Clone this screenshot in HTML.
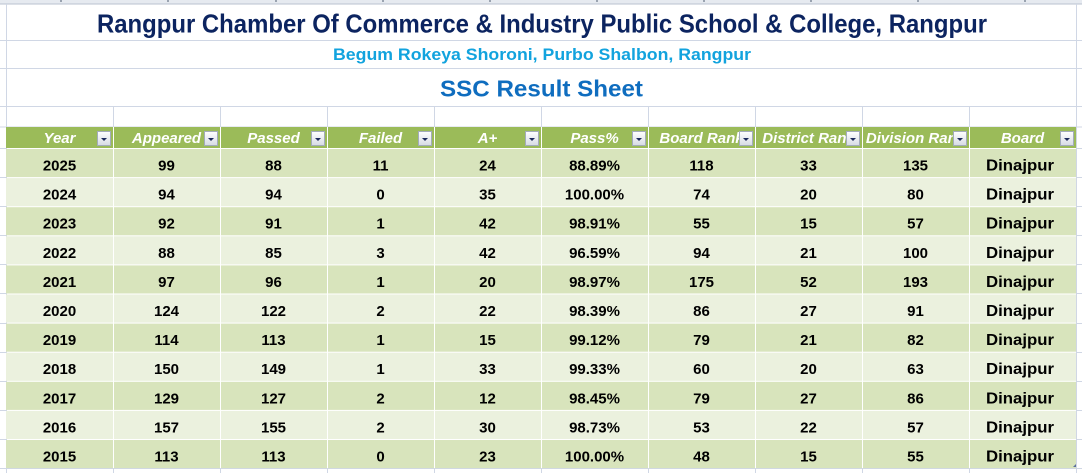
<!DOCTYPE html>
<html>
<head>
<meta charset="utf-8">
<style>
html,body{margin:0;padding:0;background:#fff;}
body{width:1082px;height:473px;overflow:hidden;}
svg{display:block;}
.d{font-family:"Liberation Sans",sans-serif;font-weight:bold;font-size:15px;fill:#000;text-anchor:middle;}
.b{font-family:"Liberation Sans",sans-serif;font-weight:bold;font-size:16px;fill:#000;}
.h{font-family:"Liberation Sans",sans-serif;font-weight:bold;font-style:italic;font-size:15px;fill:#fff;text-anchor:middle;}
</style>
</head>
<body>
<svg width="1082" height="473" viewBox="0 0 1082 473" xmlns="http://www.w3.org/2000/svg">
<defs>
<linearGradient id="btn" x1="0" y1="0" x2="0" y2="1">
<stop offset="0" stop-color="#ffffff"/>
<stop offset="1" stop-color="#d6dbe4"/>
</linearGradient>
</defs>
<rect x="0" y="0" width="1082" height="473" fill="#fff"/>
<!-- top excel header band -->
<rect x="0" y="0" width="1082" height="4" fill="#e6eaf0"/>
<rect x="0" y="3.5" width="1082" height="1" fill="#b9c2cf"/>
<g fill="#9aa3b0">
<rect x="60" y="0" width="2" height="2"/><rect x="167" y="0" width="2" height="2"/><rect x="275" y="0" width="2" height="2"/>
<rect x="382" y="0" width="2" height="2"/><rect x="489" y="0" width="2" height="2"/><rect x="596" y="0" width="2" height="2"/>
<rect x="703" y="0" width="2" height="2"/><rect x="810" y="0" width="2" height="2"/><rect x="917" y="0" width="2" height="2"/>
<rect x="1024" y="0" width="2" height="2"/>
</g>
<!-- gridlines -->
<g fill="#d0d7e5">
<rect x="0" y="40" width="1082" height="1"/>
<rect x="0" y="68" width="1082" height="1"/>
<rect x="0" y="106" width="1082" height="1"/>
<rect x="0" y="126.5" width="1082" height="1"/>
<rect x="0" y="468" width="1082" height="1"/>
<rect x="6" y="4" width="1" height="469"/>
<rect x="1076" y="4" width="1" height="469"/>
<rect x="113" y="106" width="1" height="21"/><rect x="220" y="106" width="1" height="21"/><rect x="327" y="106" width="1" height="21"/>
<rect x="434" y="106" width="1" height="21"/><rect x="541" y="106" width="1" height="21"/><rect x="648" y="106" width="1" height="21"/>
<rect x="755" y="106" width="1" height="21"/><rect x="862" y="106" width="1" height="21"/><rect x="969" y="106" width="1" height="21"/>
<rect x="113" y="468" width="1" height="5"/><rect x="220" y="468" width="1" height="5"/><rect x="327" y="468" width="1" height="5"/>
<rect x="434" y="468" width="1" height="5"/><rect x="541" y="468" width="1" height="5"/><rect x="648" y="468" width="1" height="5"/>
<rect x="755" y="468" width="1" height="5"/><rect x="862" y="468" width="1" height="5"/><rect x="969" y="468" width="1" height="5"/>
<rect x="0" y="177" width="6" height="1"/><rect x="0" y="206" width="6" height="1"/><rect x="0" y="235" width="6" height="1"/>
<rect x="0" y="264" width="6" height="1"/><rect x="0" y="293" width="6" height="1"/><rect x="0" y="323" width="6" height="1"/>
<rect x="0" y="352" width="6" height="1"/><rect x="0" y="381" width="6" height="1"/><rect x="0" y="410" width="6" height="1"/>
<rect x="0" y="439" width="6" height="1"/><rect x="0" y="148" width="6" height="1"/>
<rect x="1077" y="177" width="5" height="1"/><rect x="1077" y="206" width="5" height="1"/><rect x="1077" y="235" width="5" height="1"/>
<rect x="1077" y="264" width="5" height="1"/><rect x="1077" y="293" width="5" height="1"/><rect x="1077" y="323" width="5" height="1"/>
<rect x="1077" y="352" width="5" height="1"/><rect x="1077" y="381" width="5" height="1"/><rect x="1077" y="410" width="5" height="1"/>
<rect x="1077" y="439" width="5" height="1"/><rect x="1077" y="148" width="5" height="1"/>
</g>
<!-- titles -->
<text x="97" y="32.5" textLength="890" lengthAdjust="spacingAndGlyphs" style="font-family:'Liberation Sans',sans-serif;font-weight:bold;font-size:26px;fill:#0c2460;">Rangpur Chamber Of Commerce &amp; Industry Public School &amp; College, Rangpur</text>
<text x="333" y="60" textLength="418" lengthAdjust="spacingAndGlyphs" style="font-family:'Liberation Sans',sans-serif;font-weight:bold;font-size:16.5px;fill:#12a3de;">Begum Rokeya Shoroni, Purbo Shalbon, Rangpur</text>
<text x="440" y="96.7" textLength="203" lengthAdjust="spacingAndGlyphs" style="font-family:'Liberation Sans',sans-serif;font-weight:bold;font-size:23.5px;fill:#0f6dbf;">SSC Result Sheet</text>

<!-- header row -->
<rect x="6" y="127" width="1070" height="21" fill="#9bbb59"/>
<!-- data rows -->
<rect x="6" y="149" width="1070" height="28.1" fill="#d8e4bc"/>
<rect x="6" y="178.1" width="1070" height="28.1" fill="#ebf1de"/>
<rect x="6" y="207.2" width="1070" height="28.1" fill="#d8e4bc"/>
<rect x="6" y="236.3" width="1070" height="28.1" fill="#ebf1de"/>
<rect x="6" y="265.4" width="1070" height="28.1" fill="#d8e4bc"/>
<rect x="6" y="294.5" width="1070" height="28.1" fill="#ebf1de"/>
<rect x="6" y="323.6" width="1070" height="28.1" fill="#d8e4bc"/>
<rect x="6" y="352.7" width="1070" height="28.1" fill="#ebf1de"/>
<rect x="6" y="381.8" width="1070" height="28.1" fill="#d8e4bc"/>
<rect x="6" y="410.9" width="1070" height="28.1" fill="#ebf1de"/>
<rect x="6" y="440" width="1070" height="28.1" fill="#d8e4bc"/>
<!-- white vertical separators -->
<g fill="#fff">
<rect x="113" y="127" width="1" height="341"/><rect x="220" y="127" width="1" height="341"/><rect x="327" y="127" width="1" height="341"/>
<rect x="434" y="127" width="1" height="341"/><rect x="541" y="127" width="1" height="341"/><rect x="648" y="127" width="1" height="341"/>
<rect x="755" y="127" width="1" height="341"/><rect x="862" y="127" width="1" height="341"/><rect x="969" y="127" width="1" height="341"/>
</g>

<!-- header texts (clipped at buttons) -->
<svg x="7" y="127" width="90" height="21"><text class="h" x="52.5" y="16">Year</text></svg>
<svg x="114" y="127" width="90" height="21"><text class="h" x="52.5" y="16">Appeared</text></svg>
<svg x="221" y="127" width="90" height="21"><text class="h" x="52.5" y="16">Passed</text></svg>
<svg x="328" y="127" width="90" height="21"><text class="h" x="52.5" y="16">Failed</text></svg>
<svg x="435" y="127" width="90" height="21"><text class="h" x="52.5" y="16">A+</text></svg>
<svg x="542" y="127" width="90" height="21"><text class="h" x="52.5" y="16">Pass%</text></svg>
<svg x="649" y="127" width="90" height="21"><text class="h" x="52.5" y="16">Board Rank</text></svg>
<svg x="756" y="127" width="90" height="21"><text class="h" x="52.5" y="16">District Rank</text></svg>
<svg x="863" y="127" width="90" height="21"><text class="h" x="52.5" y="16">Division Rank</text></svg>
<svg x="970" y="127" width="90" height="21"><text class="h" x="52.5" y="16">Board</text></svg>

<!-- filter buttons -->
<g>
<g transform="translate(97,131)"><rect x="0.5" y="0.5" width="13" height="14" fill="url(#btn)" stroke="#a3abbb"/><path d="M4 7 L10 7 L7 10 Z" fill="#1d2a5c"/></g>
<g transform="translate(204,131)"><rect x="0.5" y="0.5" width="13" height="14" fill="url(#btn)" stroke="#a3abbb"/><path d="M4 7 L10 7 L7 10 Z" fill="#1d2a5c"/></g>
<g transform="translate(311,131)"><rect x="0.5" y="0.5" width="13" height="14" fill="url(#btn)" stroke="#a3abbb"/><path d="M4 7 L10 7 L7 10 Z" fill="#1d2a5c"/></g>
<g transform="translate(418,131)"><rect x="0.5" y="0.5" width="13" height="14" fill="url(#btn)" stroke="#a3abbb"/><path d="M4 7 L10 7 L7 10 Z" fill="#1d2a5c"/></g>
<g transform="translate(525,131)"><rect x="0.5" y="0.5" width="13" height="14" fill="url(#btn)" stroke="#a3abbb"/><path d="M4 7 L10 7 L7 10 Z" fill="#1d2a5c"/></g>
<g transform="translate(632,131)"><rect x="0.5" y="0.5" width="13" height="14" fill="url(#btn)" stroke="#a3abbb"/><path d="M4 7 L10 7 L7 10 Z" fill="#1d2a5c"/></g>
<g transform="translate(739,131)"><rect x="0.5" y="0.5" width="13" height="14" fill="url(#btn)" stroke="#a3abbb"/><path d="M4 7 L10 7 L7 10 Z" fill="#1d2a5c"/></g>
<g transform="translate(846,131)"><rect x="0.5" y="0.5" width="13" height="14" fill="url(#btn)" stroke="#a3abbb"/><path d="M4 7 L10 7 L7 10 Z" fill="#1d2a5c"/></g>
<g transform="translate(953,131)"><rect x="0.5" y="0.5" width="13" height="14" fill="url(#btn)" stroke="#a3abbb"/><path d="M4 7 L10 7 L7 10 Z" fill="#1d2a5c"/></g>
<g transform="translate(1060,131)"><rect x="0.5" y="0.5" width="13" height="14" fill="url(#btn)" stroke="#a3abbb"/><path d="M4 7 L10 7 L7 10 Z" fill="#1d2a5c"/></g>
</g>

<!-- data text -->
<g>
<text class="d" x="59.5" y="170.5">2025</text><text class="d" x="166.5" y="170.5">99</text><text class="d" x="273.5" y="170.5">88</text><text class="d" x="380.5" y="170.5">11</text><text class="d" x="487.5" y="170.5">24</text><text class="d" x="594.5" y="170.5">88.89%</text><text class="d" x="701.5" y="170.5">118</text><text class="d" x="808.5" y="170.5">33</text><text class="d" x="915.5" y="170.5">135</text><text class="b" x="986" y="170.5" textLength="68" lengthAdjust="spacingAndGlyphs">Dinajpur</text>

<text class="d" x="59.5" y="199.6">2024</text><text class="d" x="166.5" y="199.6">94</text><text class="d" x="273.5" y="199.6">94</text><text class="d" x="380.5" y="199.6">0</text><text class="d" x="487.5" y="199.6">35</text><text class="d" x="594.5" y="199.6">100.00%</text><text class="d" x="701.5" y="199.6">74</text><text class="d" x="808.5" y="199.6">20</text><text class="d" x="915.5" y="199.6">80</text><text class="b" x="986" y="199.6" textLength="68" lengthAdjust="spacingAndGlyphs">Dinajpur</text>

<text class="d" x="59.5" y="228.7">2023</text><text class="d" x="166.5" y="228.7">92</text><text class="d" x="273.5" y="228.7">91</text><text class="d" x="380.5" y="228.7">1</text><text class="d" x="487.5" y="228.7">42</text><text class="d" x="594.5" y="228.7">98.91%</text><text class="d" x="701.5" y="228.7">55</text><text class="d" x="808.5" y="228.7">15</text><text class="d" x="915.5" y="228.7">57</text><text class="b" x="986" y="228.7" textLength="68" lengthAdjust="spacingAndGlyphs">Dinajpur</text>

<text class="d" x="59.5" y="257.8">2022</text><text class="d" x="166.5" y="257.8">88</text><text class="d" x="273.5" y="257.8">85</text><text class="d" x="380.5" y="257.8">3</text><text class="d" x="487.5" y="257.8">42</text><text class="d" x="594.5" y="257.8">96.59%</text><text class="d" x="701.5" y="257.8">94</text><text class="d" x="808.5" y="257.8">21</text><text class="d" x="915.5" y="257.8">100</text><text class="b" x="986" y="257.8" textLength="68" lengthAdjust="spacingAndGlyphs">Dinajpur</text>

<text class="d" x="59.5" y="286.9">2021</text><text class="d" x="166.5" y="286.9">97</text><text class="d" x="273.5" y="286.9">96</text><text class="d" x="380.5" y="286.9">1</text><text class="d" x="487.5" y="286.9">20</text><text class="d" x="594.5" y="286.9">98.97%</text><text class="d" x="701.5" y="286.9">175</text><text class="d" x="808.5" y="286.9">52</text><text class="d" x="915.5" y="286.9">193</text><text class="b" x="986" y="286.9" textLength="68" lengthAdjust="spacingAndGlyphs">Dinajpur</text>

<text class="d" x="59.5" y="316">2020</text><text class="d" x="166.5" y="316">124</text><text class="d" x="273.5" y="316">122</text><text class="d" x="380.5" y="316">2</text><text class="d" x="487.5" y="316">22</text><text class="d" x="594.5" y="316">98.39%</text><text class="d" x="701.5" y="316">86</text><text class="d" x="808.5" y="316">27</text><text class="d" x="915.5" y="316">91</text><text class="b" x="986" y="316" textLength="68" lengthAdjust="spacingAndGlyphs">Dinajpur</text>

<text class="d" x="59.5" y="345.1">2019</text><text class="d" x="166.5" y="345.1">114</text><text class="d" x="273.5" y="345.1">113</text><text class="d" x="380.5" y="345.1">1</text><text class="d" x="487.5" y="345.1">15</text><text class="d" x="594.5" y="345.1">99.12%</text><text class="d" x="701.5" y="345.1">79</text><text class="d" x="808.5" y="345.1">21</text><text class="d" x="915.5" y="345.1">82</text><text class="b" x="986" y="345.1" textLength="68" lengthAdjust="spacingAndGlyphs">Dinajpur</text>

<text class="d" x="59.5" y="374.2">2018</text><text class="d" x="166.5" y="374.2">150</text><text class="d" x="273.5" y="374.2">149</text><text class="d" x="380.5" y="374.2">1</text><text class="d" x="487.5" y="374.2">33</text><text class="d" x="594.5" y="374.2">99.33%</text><text class="d" x="701.5" y="374.2">60</text><text class="d" x="808.5" y="374.2">20</text><text class="d" x="915.5" y="374.2">63</text><text class="b" x="986" y="374.2" textLength="68" lengthAdjust="spacingAndGlyphs">Dinajpur</text>

<text class="d" x="59.5" y="403.3">2017</text><text class="d" x="166.5" y="403.3">129</text><text class="d" x="273.5" y="403.3">127</text><text class="d" x="380.5" y="403.3">2</text><text class="d" x="487.5" y="403.3">12</text><text class="d" x="594.5" y="403.3">98.45%</text><text class="d" x="701.5" y="403.3">79</text><text class="d" x="808.5" y="403.3">27</text><text class="d" x="915.5" y="403.3">86</text><text class="b" x="986" y="403.3" textLength="68" lengthAdjust="spacingAndGlyphs">Dinajpur</text>

<text class="d" x="59.5" y="432.4">2016</text><text class="d" x="166.5" y="432.4">157</text><text class="d" x="273.5" y="432.4">155</text><text class="d" x="380.5" y="432.4">2</text><text class="d" x="487.5" y="432.4">30</text><text class="d" x="594.5" y="432.4">98.73%</text><text class="d" x="701.5" y="432.4">53</text><text class="d" x="808.5" y="432.4">22</text><text class="d" x="915.5" y="432.4">57</text><text class="b" x="986" y="432.4" textLength="68" lengthAdjust="spacingAndGlyphs">Dinajpur</text>

<text class="d" x="59.5" y="461.5">2015</text><text class="d" x="166.5" y="461.5">113</text><text class="d" x="273.5" y="461.5">113</text><text class="d" x="380.5" y="461.5">0</text><text class="d" x="487.5" y="461.5">23</text><text class="d" x="594.5" y="461.5">100.00%</text><text class="d" x="701.5" y="461.5">48</text><text class="d" x="808.5" y="461.5">15</text><text class="d" x="915.5" y="461.5">55</text><text class="b" x="986" y="461.5" textLength="68" lengthAdjust="spacingAndGlyphs">Dinajpur</text>
</g>
<!-- tiny table resize handle -->
<path d="M1073 467 L1076 467 L1076 464 Z" fill="#5a6f9a"/>
</svg>
</body>
</html>
